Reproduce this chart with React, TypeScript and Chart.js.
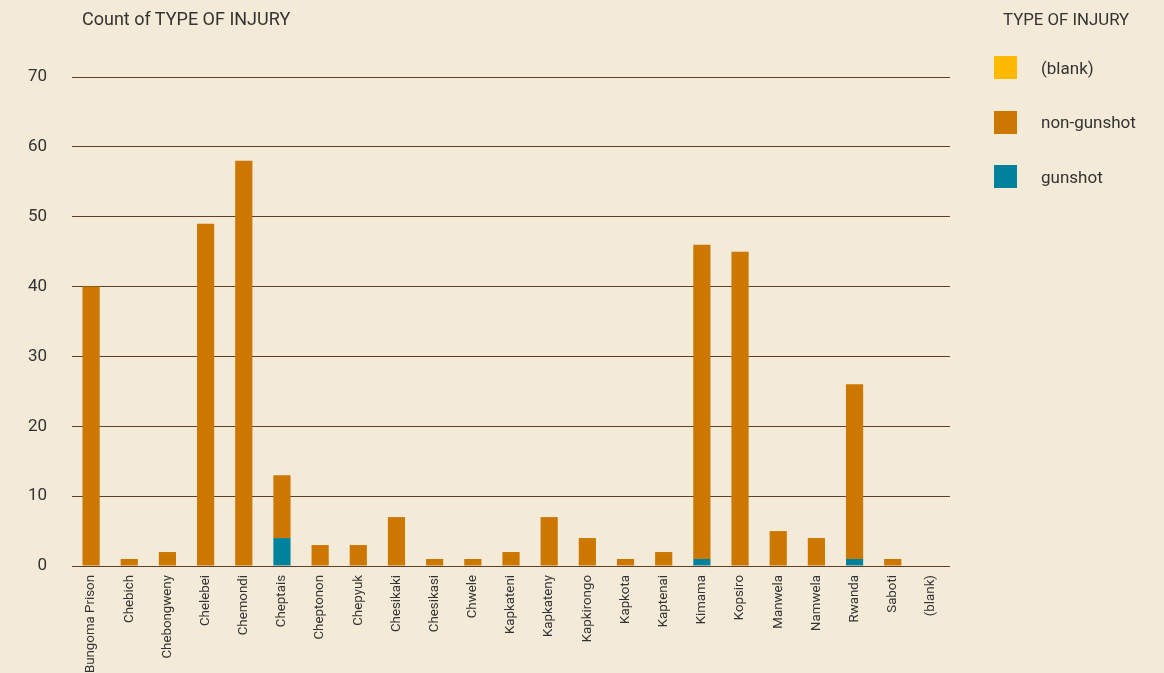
import React, { useEffect, useRef } from "react";
import { Chart, registerables } from "chart.js";

Chart.register(...registerables);

const categories = [
  "Bungoma Prison", "Chebich", "Chebongweny", "Chelebei", "Chemondi", "Cheptais",
  "Cheptonon", "Chepyuk", "Chesikaki", "Chesikasi", "Chwele", "Kapkateni",
  "Kapkateny", "Kapkirongo", "Kapkota", "Kaptenai", "Kimama", "Kopsiro",
  "Manwela", "Namwela", "Rwanda", "Saboti", "(blank)",
];
const gunshot = [0, 0, 0, 0, 0, 4, 0, 0, 0, 0, 0, 0, 0, 0, 0, 0, 1, 0, 0, 0, 1, 0, 0];
const nonGunshot = [40, 1, 2, 49, 58, 9, 3, 3, 7, 1, 1, 2, 7, 4, 1, 2, 45, 45, 5, 4, 25, 1, 0];
const blank = [0, 0, 0, 0, 0, 0, 0, 0, 0, 0, 0, 0, 0, 0, 0, 0, 0, 0, 0, 0, 0, 0, 0];
const yTicks = [0, 10, 20, 30, 40, 50, 60, 70];

const chartTitle = "Count of TYPE OF INJURY";
const legendTitle = "TYPE OF INJURY";
const seriesNames = ["gunshot", "non-gunshot", "(blank)"];
const seriesColors = ["#00829c", "#cc7700", "#fdba00"];

const BG = "#f3ead7";
const TEXT = "#333333";
const GRID = "#5e3f28";
const FONT = "Roboto, 'DejaVu Sans', sans-serif";

export default function App() {
  const ref = useRef<HTMLCanvasElement | null>(null);

  useEffect(() => {
    if (!ref.current) return;
    const seriesData = [gunshot, nonGunshot, blank];
    const chart = new Chart(ref.current, {
      type: "bar",
      data: {
        labels: categories,
        datasets: seriesNames.map((name, i) => ({
          label: name,
          data: seriesData[i],
          backgroundColor: seriesColors[i],
          borderWidth: 0,
          categoryPercentage: 1,
          barPercentage: 0.45,
        })),
      },
      options: {
        responsive: false,
        animation: false,
        maintainAspectRatio: false,
        layout: { padding: { top: 77, right: 214, left: 0, bottom: 0 } },
        plugins: {
          legend: { display: false },
          title: { display: false },
          tooltip: { enabled: false },
        },
        scales: {
          x: {
            stacked: true,
            grid: { display: false, drawTicks: false },
            border: { display: false },
            ticks: {
              autoSkip: false,
              minRotation: 90,
              maxRotation: 90,
              padding: 9,
              color: TEXT,
              font: { family: FONT, size: 13.3 },
            },
            afterFit: (scale: any) => {
              scale.height = 107;
            },
          },
          y: {
            stacked: true,
            min: 0,
            max: 70,
            afterBuildTicks: (scale: any) => {
              scale.ticks = yTicks.map((v) => ({ value: v }));
            },
            grid: { color: GRID, lineWidth: 1, drawTicks: false },
            border: { display: false },
            ticks: {
              padding: 25,
              color: TEXT,
              font: { family: FONT, size: 17 },
            },
            afterFit: (scale: any) => {
              scale.width = 72;
            },
          },
        },
      },
    });
    return () => chart.destroy();
  }, []);

  const legendOrder = [2, 1, 0];

  return (
    <div
      style={{
        position: "fixed",
        left: 0,
        top: 0,
        width: 1164,
        height: 673,
        background: BG,
        overflow: "hidden",
        fontFamily: FONT,
        color: TEXT,
      }}
    >
      <canvas ref={ref} width={1164} height={673} style={{ position: "absolute", left: 0, top: 0 }} />
      <div style={{ position: "absolute", left: 82, top: 7, fontSize: 18, lineHeight: "24px" }}>{chartTitle}</div>
      <div style={{ position: "absolute", left: 1003, top: 8, fontSize: 16.8, lineHeight: "22px" }}>{legendTitle}</div>
      {legendOrder.map((idx, k) => (
        <div key={idx} style={{ position: "absolute", left: 994, top: 56 + k * 54.5, height: 23, display: "flex", alignItems: "center" }}>
          <div style={{ width: 23, height: 23, background: seriesColors[idx] }} />
          <div style={{ marginLeft: 24, fontSize: 17 }}>{seriesNames[idx]}</div>
        </div>
      ))}
    </div>
  );
}
